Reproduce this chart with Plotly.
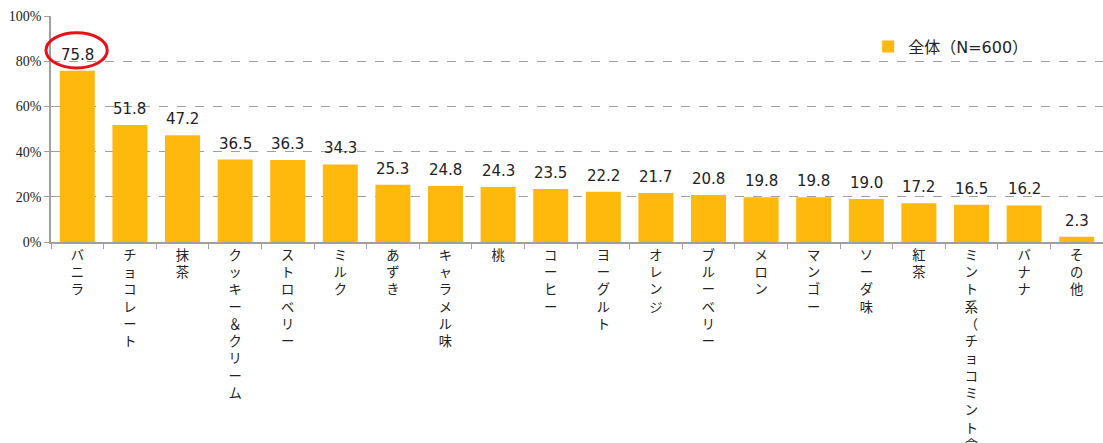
import plotly.graph_objects as go

categories = ["バニラ", "チョコレート", "抹茶", "クッキー＆クリーム", "ストロベリー", "ミルク",
              "あずき", "キャラメル味", "桃", "コーヒー", "ヨーグルト", "オレンジ", "ブルーベリー",
              "メロン", "マンゴー", "ソーダ味", "紅茶", "ミント系（チョコミント含む）", "バナナ", "その他"]
values = [75.8, 51.8, 47.2, 36.5, 36.3, 34.3, 25.3, 24.8, 24.3, 23.5, 22.2, 21.7, 20.8,
          19.8, 19.8, 19.0, 17.2, 16.5, 16.2, 2.3]
y_ticks = [0, 20, 40, 60, 80, 100]
y_tick_labels = ["0%", "20%", "40%", "60%", "80%", "100%"]
series_name = "全体（N=600）"

vertical_labels = ["<br>".join(list(c)) for c in categories]

fig = go.Figure()
fig.add_trace(go.Bar(
    x=categories, y=values, name=series_name,
    marker=dict(color="#FFB80C", line=dict(width=0)),
    showlegend=True,
))

for c, v in zip(categories, values):
    fig.add_annotation(x=c, y=v, text=f"{v:.1f}", showarrow=False,
                       xanchor="center", yanchor="bottom", yshift=5,
                       font=dict(family="DejaVu Sans", size=15, color="#222222"))

fig.update_layout(
    width=1103, height=443,
    margin=dict(l=51, r=0, t=16, b=201, autoexpand=False),
    paper_bgcolor="white", plot_bgcolor="white",
    bargap=0.335,
    showlegend=True,
    legend=dict(x=0.7768, y=0.865, xanchor="left", yanchor="middle",
                font=dict(family="DejaVu Sans, Noto Sans CJK JP", size=16, color="#222222"),
                bgcolor="rgba(0,0,0,0)"),
    shapes=[dict(type="circle", xref="paper", yref="paper",
                 x0=-0.0048, x1=0.0535, y0=0.77, y1=0.926,
                 line=dict(color="#E8101A", width=3))],
)

fig.update_xaxes(
    tickmode="array", tickvals=categories, ticktext=vertical_labels,
    tickangle=0, tickfont=dict(family="Noto Sans CJK JP", size=13.3, color="#222222"),
    ticks="outside", tickson="boundaries", ticklen=5, tickcolor="#A0A0A0",
    showline=True, linecolor="#A0A0A0", linewidth=1.5,
    showgrid=False, automargin=False,
)
fig.update_yaxes(
    range=[0, 100], tickvals=y_ticks, ticktext=y_tick_labels,
    tickfont=dict(family="Liberation Sans Narrow", size=14, color="#222222"),
    ticks="outside", ticklen=5, tickcolor="#A0A0A0",
    showline=True, linecolor="#A0A0A0", linewidth=1.5,
    showgrid=True, gridcolor="#A0A0A0", griddash="dash", gridwidth=1.3,
    zeroline=False, automargin=False,
)

fig.write_html("out.html", config={"displayModeBar": False},
               post_script="document.body.style.margin='0';document.body.style.overflow='hidden';")
